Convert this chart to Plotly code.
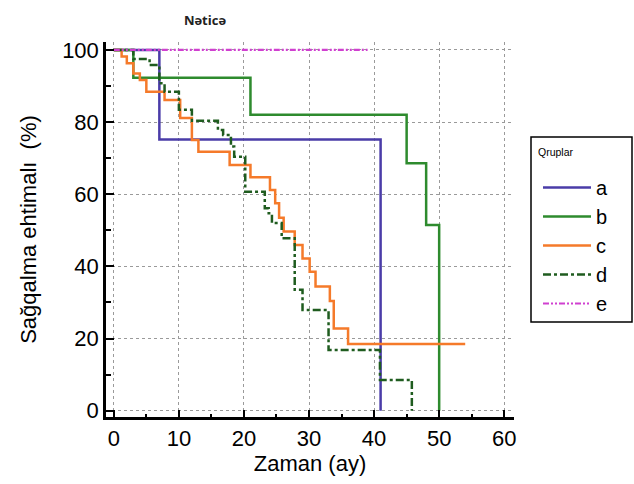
import plotly.graph_objects as go

# Kaplan-Meier survival curves (time in months, survival %)
a_t = [0, 7, 41]
a_s = [100, 75.2, 0]

b_t = [0, 3, 21, 45, 48, 50]
b_s = [100, 92.3, 82.0, 68.6, 51.5, 0]

c_t = [0, 1.2, 2.0, 3.0, 4.0, 5.0, 7.8, 10.2, 12.0, 13.0, 17.8, 21.0, 24.0,
       24.8, 25.4, 26.1, 27.8, 29.0, 30.1, 31.0, 33.2, 33.8, 36.0, 54.0]
c_s = [100, 98.2, 96.3, 93.5, 91.7, 88.4, 86.1, 81.1, 75.0, 71.8, 68.1, 64.7, 61.2,
       57.5, 53.5, 49.7, 45.9, 42.2, 38.5, 34.4, 30.4, 22.8, 18.5, 18.5]

d_t = [0, 3, 5.5, 7, 7.8, 10.0, 12.0, 16.0, 16.8, 18.0, 18.5, 20.2, 23.2,
       23.8, 24.3, 25.8, 27.8, 29.0, 33.0, 40.9, 45.8]
d_s = [100, 97.5, 95.8, 90.8, 88.4, 83.4, 80.4, 77.8, 76.4, 73.2, 70.4, 60.7, 56.1,
       54.7, 52.0, 47.8, 33.5, 27.9, 16.8, 8.5, 0]

e_t = [0, 39]
e_s = [100, 100]

groups = ["a", "b", "c", "d", "e"]
x_ticks = [0, 10, 20, 30, 40, 50, 60]
y_ticks = [0, 20, 40, 60, 80, 100]

styles = [
    dict(color="#4A3CA8", width=2.5, dash="solid"),
    dict(color="#2E8B2E", width=2.5, dash="solid"),
    dict(color="#F57A2A", width=2.5, dash="solid"),
    dict(color="#1F5C1F", width=2.5, dash="8px,3px,3px,3px"),
    dict(color="#D040D0", width=2.2, dash="6px,2px,2px,2px,2px,2px"),
]

fig = go.Figure()
for name, t, s, st in zip(groups, [a_t, b_t, c_t, d_t, e_t],
                          [a_s, b_s, c_s, d_s, e_s], styles):
    fig.add_trace(go.Scatter(x=t, y=s, mode="lines", name=name,
                             line=dict(shape="hv", **st), legendgroup=name))

W, H = 634, 484
L, R, T, B = 106, 120, 42, 67
pw, ph = W - L - R, H - T - B

def px_to_paper_x(px):
    return (px - L) / pw

def py_to_paper_y(py):
    return (H - B - py) / ph

fig.add_shape(type="rect", xref="paper", yref="paper",
              x0=px_to_paper_x(531), x1=px_to_paper_x(632),
              y0=py_to_paper_y(322), y1=py_to_paper_y(137),
              line=dict(color="black", width=1.5), fillcolor="rgba(0,0,0,0)")

fig.add_annotation(text="Qruplar", xref="paper", yref="paper",
                   x=px_to_paper_x(536), y=py_to_paper_y(152),
                   xanchor="left", yanchor="middle", showarrow=False,
                   font=dict(size=10.5, family="Liberation Sans", color="black"))

fig.update_layout(
    width=W, height=H,
    margin=dict(l=L, r=R, t=T, b=B),
    paper_bgcolor="white", plot_bgcolor="white",
    title=dict(text="<b>Nəticə</b>", x=205 / W, xanchor="center",
               y=1 - 20 / H, yanchor="middle",
               font=dict(family="Open Sans", size=13, color="#222")),
    font=dict(family="Liberation Sans", color="black"),
    legend=dict(
        x=px_to_paper_x(538), y=py_to_paper_y(168), xanchor="left", yanchor="top",
        bgcolor="rgba(0,0,0,0)", borderwidth=0,
        font=dict(size=20, family="Liberation Sans"),
        tracegroupgap=0, itemwidth=48,
    ),
    showlegend=True,
)

fig.update_xaxes(
    range=[-1.2, 61.5], tickvals=x_ticks, ticktext=[str(v) for v in x_ticks],
    showline=True, linecolor="black", linewidth=2.5,
    ticks="inside", ticklen=7, tickwidth=2, tickcolor="black",
    tickfont=dict(size=22, family="Liberation Sans"),
    showgrid=True, gridcolor="#9a9a9a", gridwidth=1, griddash="dot",
    zeroline=False,
    minor=dict(dtick=5, tick0=0, ticks="inside", ticklen=3, tickwidth=1.5,
               tickcolor="black", showgrid=False),
    title=dict(text="Zaman (ay)", font=dict(size=22, family="Liberation Sans"),
               standoff=6),
)
fig.update_yaxes(
    range=[-1.75, 102.2], tickvals=y_ticks, ticktext=[str(v) for v in y_ticks],
    showline=True, linecolor="black", linewidth=2.5,
    ticks="inside", ticklen=8, tickwidth=2, tickcolor="black",
    tickfont=dict(size=22, family="Liberation Sans"),
    showgrid=True, gridcolor="#9a9a9a", gridwidth=1, griddash="dot",
    zeroline=False,
    minor=dict(dtick=10, tick0=0, ticks="inside", ticklen=5, tickwidth=1.5,
               tickcolor="black", showgrid=False),
    title=dict(text="Sağqalma ehtimalı  (%)",
               font=dict(size=22, family="Liberation Sans"), standoff=20),
)

fig.write_html("out.html")
